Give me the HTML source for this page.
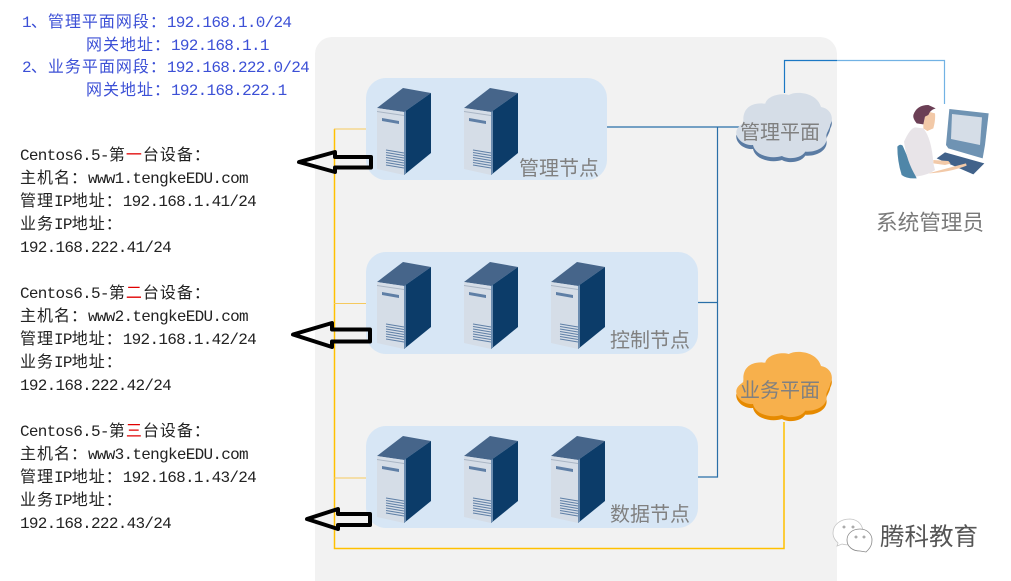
<!DOCTYPE html>
<html><head><meta charset="utf-8"><style>
html,body{margin:0;padding:0;background:#fff}
svg{display:block}
.m{font-family:"Liberation Mono",monospace;font-size:16px;letter-spacing:-0.720px;fill:#222}
.b{fill:#3c50d6}
.c{font-family:"Noto Sans CJK SC","WenQuanYi Zen Hei",sans-serif;font-size:16px;letter-spacing:1px}
.l{font-family:"Liberation Sans","Noto Sans CJK SC",sans-serif;font-size:20px;fill:#808080}
</style></head><body>
<svg width="1011" height="581" viewBox="0 0 1011 581" xmlns="http://www.w3.org/2000/svg">
<defs>
<g id="srv">
<polygon points="0,20 26,0 54,5 27,24" fill="#46658a"/>
<polygon points="0,20 27,24 27,87 0,81" fill="#d5dde7"/>
<polygon points="27,24 54,5 54,65 27,87" fill="#0c3c69"/>
<polygon points="27,24 29,23 29,85 27,87" fill="#6d8db0"/>
<polygon points="0,23 27,27 27,28 0,24" fill="#a9b5c4"/>
<polygon points="5,30 22,33 22,36 5,33" fill="#5f7fa6"/>
<g stroke="#5f7fa6" stroke-width="1" fill="none">
<path d="M9,62 L27,65M9,64.500 L27,67.500M9,67 L27,70M9,69.500 L27,72.500M9,72 L27,75M9,74.500 L27,77.500M9,77 L27,80"/>
</g>
</g>
<path id="cl" transform="scale(0.33333) translate(-107,-33)" d="M130,125 C125,95 140,62 195,68 C200,45 240,35 265,42 C290,28 350,35 362,78 C390,82 402,110 390,130 C388,145 378,155 378,165 C385,195 350,215 315,212 C300,235 260,235 245,225 C215,235 165,225 158,192 C125,195 100,165 110,145 C115,135 125,130 130,125Z"/>
</defs>

<rect x="315" y="37" width="522" height="560" rx="17" fill="#f2f2f2"/>

<!-- node panels -->
<rect x="366" y="78" width="241" height="102" rx="20" fill="#d7e6f5"/>
<rect x="366" y="252" width="332" height="102" rx="20" fill="#d7e6f5"/>
<rect x="366" y="426" width="332" height="102" rx="20" fill="#d7e6f5"/>

<!-- connectors -->
<g fill="none" stroke-width="1.500">
<path d="M334.500,129V548.500H784V422" stroke="#ffc000"/>
<path d="M334,129H366M334,303.500H366M334,478H366" stroke="#f5c95e" stroke-width="1"/>
<path d="M607,127H740M717.500,127V477H698M698,302.500H717" stroke="#2a6fa8" stroke-width="1.200"/>
<path d="M784.500,93V60.500H837" stroke="#1b78c4" stroke-width="1.200"/>
<path d="M837,60.500H944.500V104" stroke="#72b2e4" stroke-width="1.200"/>
</g>

<!-- servers -->
<use href="#srv" x="377" y="88"/><use href="#srv" x="464" y="88"/>
<use href="#srv" x="377" y="262"/><use href="#srv" x="464" y="262"/><use href="#srv" x="551" y="262"/>
<use href="#srv" x="377" y="436"/><use href="#srv" x="464" y="436"/><use href="#srv" x="551" y="436"/>

<!-- arrows -->
<g fill="none" stroke="#000" stroke-width="4" stroke-linejoin="round">
<polygon points="299,162 335,152 335,157 371,157 371,167.500 335,167.500 335,172"/>
<polygon points="293,334.500 332,323 332,329.500 370,329.500 370,341.500 332,341.500 332,347"/>
<polygon points="307,519 338,509 338,514 370,514 370,525 338,525 338,529"/>
</g>

<!-- clouds -->
<use href="#cl" x="736" y="96" fill="#5a7ba3"/>
<use href="#cl" x="736" y="92" fill="#d5dde7"/>
<use href="#cl" x="736" y="355" fill="#e68a00"/>
<use href="#cl" x="736" y="351" fill="#f7b04c"/>

<!-- person -->
<g transform="translate(890,95) scale(0.33333)">
<path d="M22,155Q30,145 38,152L80,250Q50,252 35,240Q22,200 22,155Z" fill="#4f86a8"/>
<path d="M42,140Q60,100 75,97L100,100Q125,130 130,205L135,225Q115,240 78,245Q50,200 42,140Z" fill="#e8e4e8"/>
<path d="M105,65L115,50L135,55Q137,75 130,100L112,108L100,100L100,88Z" fill="#f2c9a8"/>
<path d="M70,60Q80,30 115,30L137,40Q120,45 115,60L105,65L100,88L80,85Q68,70 70,60Z" fill="#6b3f55"/>
<polygon points="178,42 296,55 285,150 278,190 175,160 168,150" fill="#6f93b3"/>
<polygon points="186,57 276,67 270,150 183,132" fill="#d5dde7"/>
<polygon points="165,172 283,205 250,238 140,190" fill="#41628a"/>
<path d="M115,235Q170,220 228,205L230,212Q180,232 115,235Z" fill="#f2c9a8"/>
<path d="M130,195L175,198L182,206L165,210L130,205Z" fill="#f2c9a8"/>
</g>

<!-- blue text -->
<text class="m b" x="22" y="27">1<tspan class="c">、管理平面网段：</tspan>192.168.1.0/24</text>
<text class="m b" x="86" y="50"><tspan class="c">网关地址：</tspan>192.168.1.1</text>
<text class="m b" x="22" y="72">2<tspan class="c">、业务平面网段：</tspan>192.168.222.0/24</text>
<text class="m b" x="86" y="95"><tspan class="c">网关地址：</tspan>192.168.222.1</text>

<!-- device 1 -->
<text class="m" x="20" y="160">Centos6.5-<tspan class="c">第<tspan fill="#e00000">一</tspan>台设备：</tspan></text>
<text class="m" x="20" y="183"><tspan class="c">主机名：</tspan>www1.tengkeEDU.com</text>
<text class="m" x="20" y="206"><tspan class="c">管理</tspan>IP<tspan class="c">地址：</tspan>192.168.1.41/24</text>
<text class="m" x="20" y="229"><tspan class="c">业务</tspan>IP<tspan class="c">地址：</tspan></text>
<text class="m" x="20" y="252">192.168.222.41/24</text>
<!-- device 2 -->
<text class="m" x="20" y="298">Centos6.5-<tspan class="c">第<tspan fill="#e00000">二</tspan>台设备：</tspan></text>
<text class="m" x="20" y="321"><tspan class="c">主机名：</tspan>www2.tengkeEDU.com</text>
<text class="m" x="20" y="344"><tspan class="c">管理</tspan>IP<tspan class="c">地址：</tspan>192.168.1.42/24</text>
<text class="m" x="20" y="367"><tspan class="c">业务</tspan>IP<tspan class="c">地址：</tspan></text>
<text class="m" x="20" y="390">192.168.222.42/24</text>
<!-- device 3 -->
<text class="m" x="20" y="436">Centos6.5-<tspan class="c">第<tspan fill="#e00000">三</tspan>台设备：</tspan></text>
<text class="m" x="20" y="459"><tspan class="c">主机名：</tspan>www3.tengkeEDU.com</text>
<text class="m" x="20" y="482"><tspan class="c">管理</tspan>IP<tspan class="c">地址：</tspan>192.168.1.43/24</text>
<text class="m" x="20" y="505"><tspan class="c">业务</tspan>IP<tspan class="c">地址：</tspan></text>
<text class="m" x="20" y="528">192.168.222.43/24</text>

<!-- labels -->
<text class="l" x="519" y="175">管理节点</text>
<text class="l" x="610" y="347">控制节点</text>
<text class="l" x="610" y="521">数据节点</text>
<text class="l" x="740" y="139">管理平面</text>
<text class="l" x="740" y="397">业务平面</text>
<text class="l" x="876" y="230" style="font-size:21.600px;fill:#7a7a7a">系统管理员</text>
<text class="l" x="880" y="545" style="font-size:24.500px;fill:#555">腾科教育</text>

<!-- wechat mark -->
<g fill="#fff" stroke="#8a8a8a" stroke-width="0.800">
<path d="M850,519C840,519 833,525 833,533C833,538 836,541 838,543L837,546L842,544C845,545 848,545 852,545C866,545 868,520 850,519Z" stroke="#c4c4c4"/>
<path d="M860,529C852,529 847,534 847,540C847,547 853,551 860,551L866,552L868,550C870,548 872,545 872,540C872,534 867,529 860,529Z"/>
<circle cx="844" cy="527" r="1"/><circle cx="853" cy="527" r="1"/>
<circle cx="856" cy="537" r="1"/><circle cx="864" cy="537" r="1"/>
</g>
</svg>
</body></html>
